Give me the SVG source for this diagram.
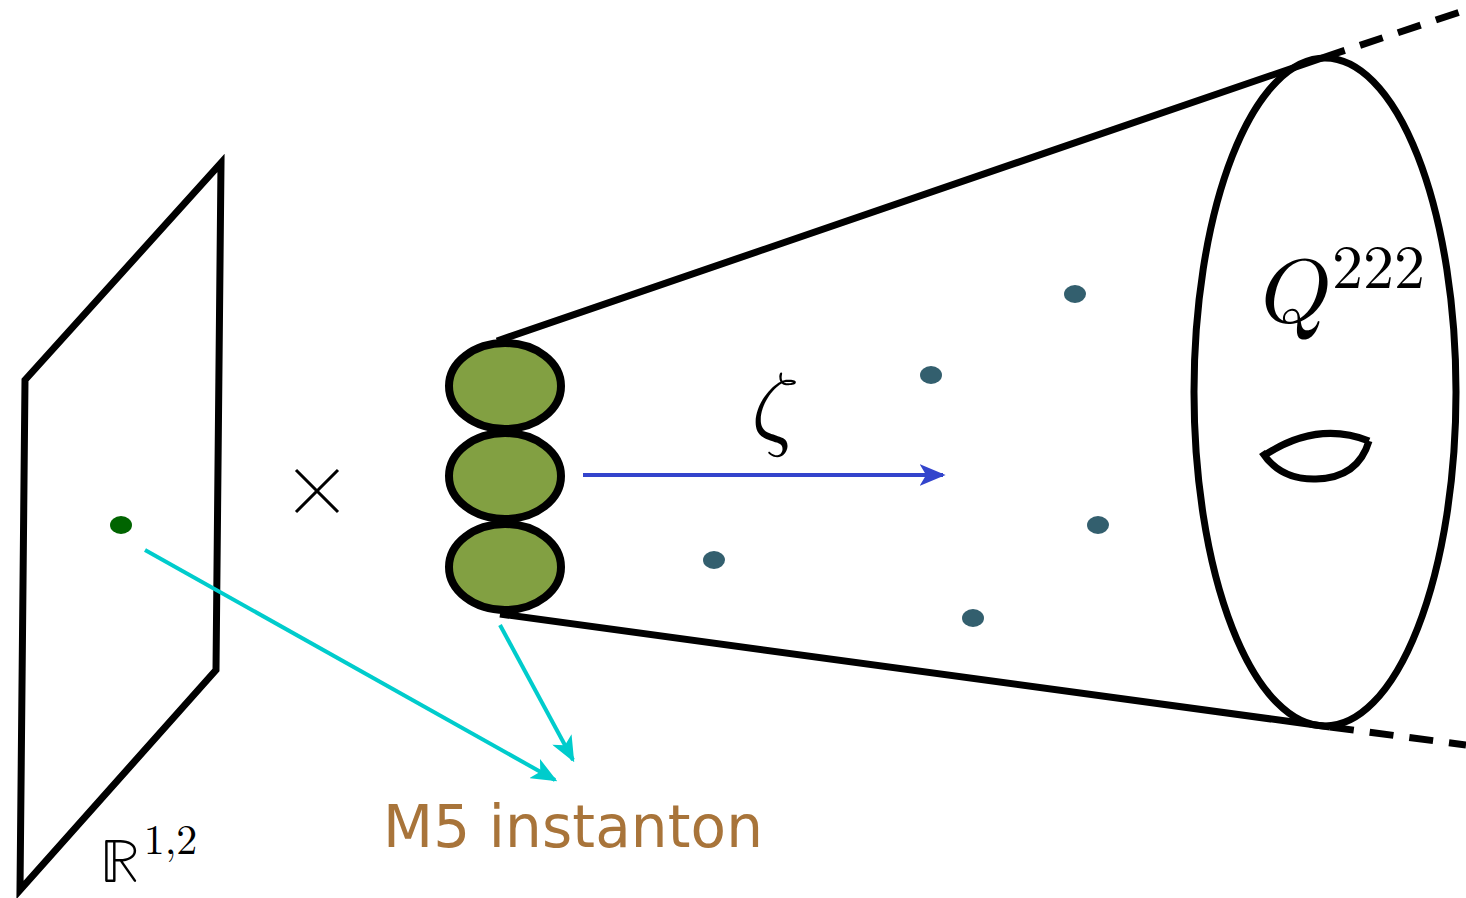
<svg xmlns="http://www.w3.org/2000/svg" width="1466" height="898" viewBox="0 0 1466 898">
<defs>
<style>
.blk{fill:none;stroke:#000;stroke-width:7;stroke-linejoin:miter}
.bead{fill:#82a042;stroke:#000;stroke-width:8}
.pt{fill:#335f6e}
.cy{fill:none;stroke:#00cccc;stroke-width:4}
.math{font-family:"Latin Modern Math","DejaVu Serif","Liberation Serif",serif;fill:#000}
</style>
<marker id="cyh" viewBox="0 0 10 10" refX="9" refY="5" markerWidth="26" markerHeight="22" markerUnits="userSpaceOnUse" orient="auto" preserveAspectRatio="none">
<path d="M0,0 L10,5 L0,10 L2.5,5 z" fill="#00cccc"/>
</marker>
<marker id="blh" viewBox="0 0 10 10" refX="9" refY="5" markerWidth="26" markerHeight="22" markerUnits="userSpaceOnUse" orient="auto" preserveAspectRatio="none">
<path d="M0,0 L10,5 L0,10 L2.5,5 z" fill="#3344cc"/>
</marker>
</defs>
<rect width="1466" height="898" fill="#fff"/>
<g id="plane">
<path class="blk" d="M25,380 L221,163 L216,670 L20,890 Z"/>
<ellipse cx="121" cy="525" rx="11" ry="9" fill="#006400"/>
</g>
<g id="times">
<path d="M296,470 L338,512 M338,470 L296,512" stroke="#000" stroke-width="3"/>
</g>
<g id="cone">
<path class="blk" d="M497,341 L1322,58 M500,614 L1330,727"/>
<path d="M1322,58 L1466,10 M1330,727 L1466,745" fill="none" stroke="#000" stroke-width="7" stroke-dasharray="24,16"/>
<ellipse class="blk" cx="1325" cy="392" rx="131" ry="334"/>
<path d="M1262,457 Q1316,420 1369,441 M1262,452 Q1280,480 1316,479 Q1358,478 1369,441" fill="none" stroke="#000" stroke-width="7"/>
</g>
<g id="beads">
<ellipse class="bead" cx="505" cy="567" rx="56" ry="43"/>
<ellipse class="bead" cx="505" cy="476" rx="56" ry="43"/>
<ellipse class="bead" cx="505" cy="386" rx="56" ry="43"/>
</g>
<g id="points">
<ellipse class="pt" cx="1075" cy="294" rx="11" ry="9"/>
<ellipse class="pt" cx="931" cy="375" rx="11" ry="9"/>
<ellipse class="pt" cx="1098" cy="525" rx="11" ry="9"/>
<ellipse class="pt" cx="714" cy="560" rx="11" ry="9"/>
<ellipse class="pt" cx="973" cy="618" rx="11" ry="9"/>
</g>
<g id="connectors">
<path class="cy" d="M145,550 L555,780" marker-end="url(#cyh)"/>
<path class="cy" d="M500,625 L573,760" marker-end="url(#cyh)"/>
<path d="M583,475 L943,475" fill="none" stroke="#3344cc" stroke-width="4" marker-end="url(#blh)"/>
</g>
<g id="labels">
<text class="math" x="100" y="882" font-size="62">ℝ<tspan font-size="42" dx="4" dy="-28">1,2</tspan></text>
<text class="math" x="1254" y="322" font-size="90" font-style="italic">Q<tspan font-style="normal" font-size="62" dx="8" dy="-34">222</tspan></text>
<text class="math" x="744" y="438" font-size="94" font-style="italic">ζ</text>
<text x="383" y="847" font-family="'DejaVu Sans','Liberation Sans',sans-serif" font-size="58" fill="#a8743a" textLength="380">M5 instanton</text>
</g>
</svg>
